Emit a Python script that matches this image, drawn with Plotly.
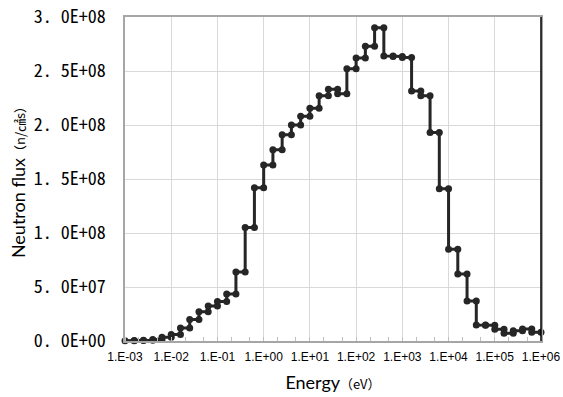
import plotly.graph_objects as go

# Bin edges (eV), 5 bins per decade
bin_edges = [
    1.00e-3, 1.585e-3, 2.512e-3, 3.981e-3, 6.310e-3,
    1.00e-2, 1.585e-2, 2.512e-2, 3.981e-2, 6.310e-2,
    1.00e-1, 1.585e-1, 2.512e-1, 3.981e-1, 6.310e-1,
    1.00e+0, 1.585e+0, 2.512e+0, 3.981e+0, 6.310e+0,
    1.00e+1, 1.585e+1, 2.512e+1, 3.981e+1, 6.310e+1,
    1.00e+2, 1.585e+2, 2.512e+2, 3.981e+2, 6.310e+2,
    1.00e+3, 1.585e+3, 2.512e+3, 3.981e+3, 6.310e+3,
    1.00e+4, 1.585e+4, 2.512e+4, 3.981e+4, 6.310e+4,
    1.00e+5, 1.585e+5, 2.512e+5, 3.981e+5, 6.310e+5,
    1.00e+6,
]

# Neutron flux per bin (n/cm2 s)
flux = [
    2.0e5, 4.0e5, 8.0e5, 1.5e6, 3.4e6,
    6.0e6, 1.2e7, 2.0e7, 2.7e7, 3.25e7,
    3.65e7, 4.35e7, 6.4e7, 1.05e8, 1.42e8,
    1.63e8, 1.77e8, 1.91e8, 2.00e8, 2.08e8,
    2.155e8, 2.27e8, 2.33e8, 2.29e8, 2.52e8,
    2.62e8, 2.73e8, 2.90e8, 2.64e8, 2.635e8,
    2.625e8, 2.315e8, 2.27e8, 1.93e8, 1.41e8,
    8.5e7, 6.2e7, 3.7e7, 1.48e7, 1.45e7,
    1.08e7, 7.1e6, 9.5e6, 1.11e7, 8.0e6,
]

x_tick_vals = [1e-3, 1e-2, 1e-1, 1e0, 1e1, 1e2, 1e3, 1e4, 1e5, 1e6]
x_tick_text = ["1.E-03", "1.E-02", "1.E-01", "1.E+00", "1.E+01",
               "1.E+02", "1.E+03", "1.E+04", "1.E+05", "1.E+06"]
y_tick_vals = [0, 5e7, 1e8, 1.5e8, 2e8, 2.5e8, 3e8]
y_tick_text = ["0. 0E+00", "5. 0E+07", "1. 0E+08", "1. 5E+08",
               "2. 0E+08", "2. 5E+08", "3. 0E+08"]

# Step outline: each bin drawn from its left edge to its right edge
xs, ys = [], []
for i, v in enumerate(flux):
    xs += [bin_edges[i], bin_edges[i + 1]]
    ys += [v, v]

fig = go.Figure()
fig.add_trace(go.Scatter(
    x=xs, y=ys, mode="lines+markers",
    line=dict(color="#262626", width=3),
    marker=dict(color="#262626", size=7),
    showlegend=False, cliponaxis=False,
))

fig.update_layout(
    width=563, height=397,
    margin=dict(l=125, r=22, t=17, b=56),
    paper_bgcolor="white", plot_bgcolor="white",
    font=dict(family="Liberation Sans", color="#000000"),
)
fig.update_xaxes(
    type="log", range=[-3, 6], automargin=False,
    tickvals=x_tick_vals, ticktext=x_tick_text,
    tickfont=dict(family="Liberation Sans", size=12, color="#000"),
    ticklabeloverflow="allow",
    showgrid=True, gridcolor="#d9d9d9", gridwidth=1,
    showline=True, linecolor="#a6a6a6", linewidth=1.5, mirror=True,
    ticks="", ticklabelstandoff=4,
    minor=dict(ticks="inside", ticklen=4, tickcolor="#bfbfbf", showgrid=False),
    zeroline=False,
    title=dict(text="Energy<span style='font-size:13px;font-family:Noto Sans CJK JP'>（eV）</span>",
               font=dict(family="Lato", size=18, color="#000"), standoff=13),
)
fig.update_yaxes(
    range=[0, 3e8], automargin=False,
    tickvals=y_tick_vals, ticktext=y_tick_text,
    tickfont=dict(family="Noto Sans Mono CJK JP, DejaVu Sans Mono", size=18, color="#000"),
    ticklabeloverflow="allow",
    showgrid=True, gridcolor="#d9d9d9", gridwidth=1,
    showline=True, linecolor="#a6a6a6", linewidth=1.5, mirror=True,
    ticks="", ticklabelstandoff=14, zeroline=False,
    title=dict(text="Neutron flux<span style='font-size:13px;font-family:Noto Sans CJK JP'>（n/㎠s）</span>",
               font=dict(family="Lato", size=18, color="#000"), standoff=3),
)
fig.add_shape(type="line", xref="paper", yref="paper", x0=1, x1=1, y0=0, y1=1,
              line=dict(color="#000000", width=1.5))

# remove the page's default body margin so the figure sits at the window origin
fig.write_html("out.html", config={"displayModeBar": False},
               post_script="document.body.style.margin='0px';")
